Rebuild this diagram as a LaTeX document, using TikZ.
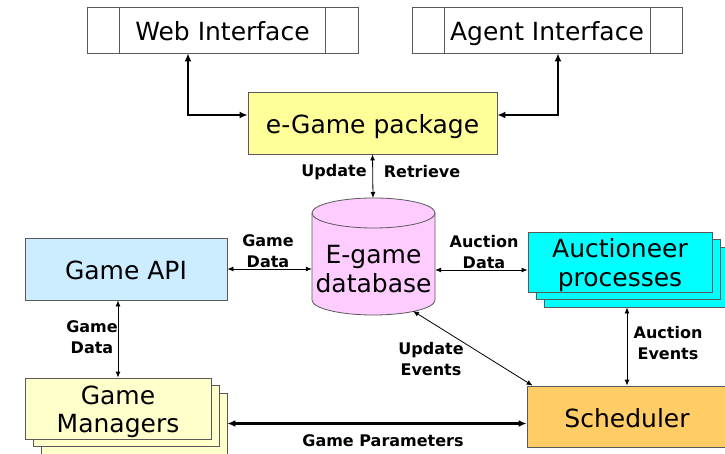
\documentclass[tikz,border=0pt]{standalone}
\usepackage{fontspec}
\setmainfont{DejaVu Sans}
\usetikzlibrary{arrows.meta}
\definecolor{pkgfill}{HTML}{FFFF99}
\definecolor{apifill}{HTML}{CCECFF}
\definecolor{dbfill}{HTML}{FFCCFF}
\definecolor{aucfill}{HTML}{00FFFF}
\definecolor{gmfill}{HTML}{FFFFCC}
\definecolor{schfill}{HTML}{FFCC66}
\begin{document}
\begin{tikzpicture}[x=1pt,y=-1pt,
  box/.style={draw=black!65, line width=0.8pt, rectangle, inner sep=0pt, align=center, font=\fontsize{25}{28.5}\selectfont},
  oneline/.style={text height=21.5pt, text depth=0pt},
  lbl/.style={font=\bfseries\fontsize{16}{21}\selectfont, align=center, inner sep=0pt},
  thinarr/.style={line width=0.8pt, {Latex[length=6pt,width=5pt]}-{Latex[length=6pt,width=5pt]}},
  thickarr/.style={line width=2.6pt, {Latex[length=8pt,width=7pt]}-{Latex[length=8pt,width=7pt]}},
]
\useasboundingbox (0,0) rectangle (725,454);

% top interfaces
\node[box, oneline, minimum width=271pt, minimum height=46pt] (web) at (222.5,30) {Web Interface};
\draw[black!65, line width=0.8pt] ([xshift=33pt]web.north west) -- ([xshift=33pt]web.south west)
  ([xshift=-33pt]web.north east) -- ([xshift=-33pt]web.south east);
\node[box, oneline, minimum width=270pt, minimum height=46pt] (agent) at (547,30) {Agent Interface};
\draw[black!65, line width=0.8pt] ([xshift=32.5pt]agent.north west) -- ([xshift=32.5pt]agent.south west)
  ([xshift=-32.5pt]agent.north east) -- ([xshift=-32.5pt]agent.south east);

% e-Game package
\node[box, oneline, fill=pkgfill, minimum width=249pt, minimum height=62pt] (pkg) at (372.5,123) {e-Game package};

% database cylinder
\path[fill=dbfill, draw=black!65, line width=0.8pt]
  (312,213) -- (312,300) arc[start angle=180, end angle=0, x radius=61.5, y radius=15]
  -- (435,213) arc[start angle=0, end angle=-180, x radius=61.5, y radius=15] -- cycle;
\draw[black!65, line width=0.8pt] (312,213) arc[start angle=180, end angle=0, x radius=61.5, y radius=15];
\node[align=center, inner sep=0pt, font=\fontsize{25}{28.5}\selectfont, minimum width=123pt] (db) at (373.5,269) {E-game\\database};
\coordinate (dbtop) at (373,198);
\coordinate (dbbot) at (413,311);

% Game API
\node[box, oneline, fill=apifill, minimum width=202pt, minimum height=62pt] (api) at (126,269) {Game API};

% Auctioneer processes (stack)
\node[box, fill=aucfill, minimum width=184pt, minimum height=60pt] (auc3) at (636,277) {};
\node[box, fill=aucfill, minimum width=184pt, minimum height=60pt] (auc2) at (628,269.5) {};
\node[box, fill=aucfill, minimum width=184pt, minimum height=60pt] (auc) at (620,262) {\rule{0pt}{25pt}Auctioneer\\processes};

% Game Managers (stack)
\node[box, fill=gmfill, minimum width=186pt, minimum height=61pt] (gm3) at (134,423.5) {};
\node[box, fill=gmfill, minimum width=186pt, minimum height=61pt] (gm2) at (126,416) {};
\node[box, fill=gmfill, minimum width=186pt, minimum height=61pt] (gm) at (118,408.5) {\rule{0pt}{25pt}Game\\Managers};

% Scheduler
\node[box, oneline, fill=schfill, minimum width=200pt, minimum height=61pt] (sched) at (627,416.5) {Scheduler};

% connectors
\draw[thickarr] ([xshift=-34.5pt]web.south) |- ([yshift=8pt]pkg.west);
\draw[thickarr] ([xshift=11pt]agent.south) |- ([yshift=8pt]pkg.east);
\draw[thinarr] (pkg.south) -- (dbtop);
\draw[thinarr] (api.east) -- (api.east -| db.west);
\draw[thinarr] ([yshift=-1pt]db.east) -- ([yshift=-1pt]db.east -| auc.west);
\draw[thinarr] (api.south -| gm.north) -- (gm.north);
\draw[thinarr] (sched.north |- auc3.south) -- (sched.north);
\draw[thinarr] (dbbot) -- ([xshift=6pt]sched.north west);
\draw[thickarr] (gm3.east) -- (gm3.east -| sched.west);

% labels
\node[lbl] (lupd) at (334,172) {Update};
\node[lbl] (lret) at (422,172) {Retrieve};
\node[lbl] (lgd1) at (268,251) {Game\\Data};
\node[lbl] (lad) at (484,252) {Auction\\Data};
\node[lbl] (lgd2) at (92,337) {Game\\Data};
\node[lbl] (lue) at (431,359) {Update\\Events};
\node[lbl] (lae) at (668,343) {Auction\\Events};
\node[lbl] (lgp) at (383,441) {Game Parameters};
\end{tikzpicture}
\end{document}
